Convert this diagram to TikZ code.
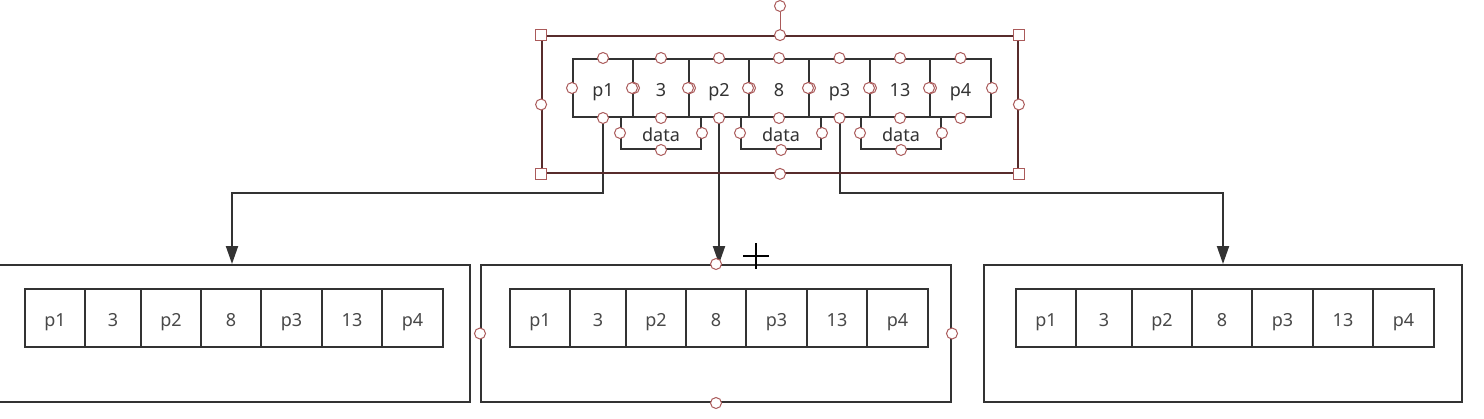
\documentclass[tikz,border=0pt]{standalone}
\usepackage{fontspec}
\setmainfont{Noto Sans}
\usepackage{tikz}
\usetikzlibrary{arrows.meta}
\definecolor{ink}{RGB}{51,51,51}
\definecolor{softink}{RGB}{72,72,72}
\definecolor{selred}{RGB}{88,44,44}
\definecolor{hred}{RGB}{170,90,90}

\begin{document}
\begin{tikzpicture}[x=1pt,y=-1pt]
			\tikzstyle{every node}+=[inner sep=0pt]
			\tikzstyle{cell}=[draw=ink, line width=2pt, minimum height=58, text=ink, font=\fontsize{18}{21}\selectfont, text height=17.5pt, text depth=0pt]
			\tikzstyle{lowcell}=[cell, text=softink]
			\tikzstyle{databox}=[draw=ink, line width=2pt, minimum width=80, minimum height=32, text=ink, font=\fontsize{18}{21}\selectfont, text height=17pt, text depth=0pt]
			\tikzstyle{page}=[draw=ink, line width=2pt, minimum height=137]
			\tikzstyle{link}=[draw=ink, line width=2pt, -{Triangle[length=18pt,width=12pt]}]
			\tikzstyle{hdl}=[circle, draw=hred, fill=white, line width=1pt, minimum size=11]
			\tikzstyle{hsq}=[rectangle, draw=hred, fill=white, line width=1pt, minimum size=11]
			\useasboundingbox[fill=white] (0,0) rectangle (1484,418);
			% root node
			\node[databox] (d1) at (661,133) {data};
			\node[databox] (d2) at (781,133) {data};
			\node[databox] (d3) at (901,133) {data};
			\node[cell, minimum width=60] (t1) at (603,88) {p1};
			\node[cell, minimum width=56] (t2) at (661,88) {3};
			\node[cell, minimum width=60] (t3) at (719,88) {p2};
			\node[cell, minimum width=60] (t4) at (779,88) {8};
			\node[cell, minimum width=61] (t5) at (839.5,88) {p3};
			\node[cell, minimum width=60] (t6) at (900,88) {13};
			\node[cell, minimum width=61] (t7) at (960.5,88) {p4};
			% child pages
			\node[page, minimum width=476] (pa) at (232,333.5) {};
			\node[page, minimum width=470] (pb) at (716,333.5) {};
			\node[page, minimum width=478] (pc) at (1223,333.5) {};
			\foreach \r/\x in {a/25, b/510, c/1016} {
				\node[lowcell, minimum width=60] (\r1) at (\x+30,318) {p1};
				\node[lowcell, minimum width=56] (\r2) at (\x+88,318) {3};
				\node[lowcell, minimum width=60] (\r3) at (\x+146,318) {p2};
				\node[lowcell, minimum width=60] (\r4) at (\x+206,318) {8};
				\node[lowcell, minimum width=61] (\r5) at (\x+266.5,318) {p3};
				\node[lowcell, minimum width=60] (\r6) at (\x+327,318) {13};
				\node[lowcell, minimum width=61] (\r7) at (\x+387.5,318) {p4};
			}
			% pointers
			\draw[link] (t1.south) -- ++(0,75) -| (pa.north);
			\draw[link] (t3.south) -- (t3.south |- pb.north);
			\draw[link] (t5.south) -- ++(0,75) -| (pc.north);
			% selection frame and handles
			\node[draw=selred, line width=1.8pt, minimum width=476, minimum height=137] (sel) at (780,104.5) {};
			\node[hdl] (rot) at (780,6) {};
			\draw[hred, line width=1pt] (sel.north) -- (rot);
			\foreach \a in {north west, north east, south west, south east}
				\node[hsq] at (sel.\a) {};
			\foreach \a in {north, south, east, west}
				\node[hdl] at (sel.\a) {};
			\foreach \i in {1,...,7}
				\foreach \a in {north, south, east, west}
					\node[hdl] at (t\i.\a) {};
			\foreach \i in {1,2,3}
				\foreach \a in {south, east, west}
					\node[hdl] at (d\i.\a) {};
			\foreach \a in {north, south, east, west}
				\node[hdl] at (pb.\a) {};
			% cursor
			\coordinate (cur) at (756,256);
			\draw[black, line width=2.5pt] (cur) ++(-13,0) -- ++(26,0) (cur) ++(0,-13) -- ++(0,26);
\end{tikzpicture}
\end{document}
